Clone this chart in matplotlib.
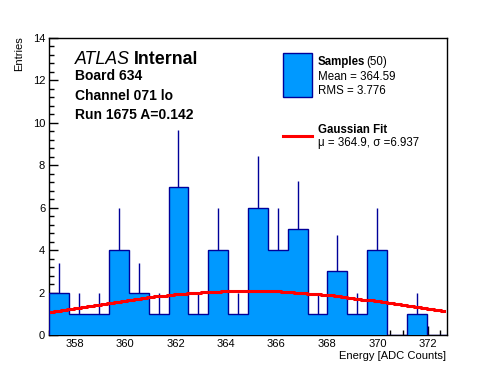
import numpy as np
import matplotlib
matplotlib.use('Agg')
import matplotlib.pyplot as plt
from matplotlib.patches import Rectangle
from matplotlib.lines import Line2D
from matplotlib.ticker import MultipleLocator

plt.rcParams['font.family'] = ['Liberation Sans', 'DejaVu Sans']

# histogramme: 20 bins entre bin_lo y bin_hi
bin_lo = 357.0
bin_hi = 372.75
counts = [2, 1, 1, 4, 2, 1, 7, 1, 4, 1, 6, 4, 5, 1, 3, 1, 4, 0, 1, 0]

# parametros del ajuste gaussiano
fit_const = 2.08
fit_mean = 364.9
fit_sigma = 6.937

n_samples = 50
mean_txt = 364.59
rms_txt = 3.776

header = ['Board 634', 'Channel 071 lo', 'Run 1675 A=0.142']

W, H = 496, 372
col_fill = '#0099ff'
col_edge = '#000099'


def px(x, y):
    return x / W, 1 - y / H


counts = np.array(counts, dtype=float)
edges = np.linspace(bin_lo, bin_hi, len(counts) + 1)
centers = 0.5 * (edges[:-1] + edges[1:])
errs = np.sqrt(counts)

fig = plt.figure(figsize=(W / 100, H / 100), dpi=100)
ax = fig.add_axes([49.3 / W, 37 / H, (446.7 - 49.3) / W, (335 - 38) / H])

# barras de error (solo se ve la parte de arriba)
mask = counts > 0
ax.vlines(centers[mask], counts[mask], counts[mask] + errs[mask],
          color=col_edge, lw=1, zorder=2)
ax.stairs(counts, edges, fill=True, facecolor=col_fill, edgecolor='none', zorder=3)
ax.stairs(counts, edges, fill=False, edgecolor=col_edge, lw=1.0, baseline=0, zorder=4)

xf = np.linspace(bin_lo + 0.05, bin_hi - 0.1, 60)
yf = fit_const * np.exp(-0.5 * ((xf - fit_mean) / fit_sigma) ** 2)
ax.plot(xf, yf, color='#ff0000', lw=2.2, drawstyle='steps-mid', zorder=5)

ax.set_xlim(bin_lo, bin_hi)
ax.set_ylim(0, 14)
ax.xaxis.set_major_locator(MultipleLocator(2))
ax.xaxis.set_minor_locator(MultipleLocator(0.5))
ax.yaxis.set_major_locator(MultipleLocator(2))
ax.yaxis.set_minor_locator(MultipleLocator(0.4))
ax.tick_params(which='both', direction='in', top=False, right=False,
               labelsize=8, width=1)
ax.tick_params(which='major', length=6.5, pad=3)
ax.tick_params(which='minor', length=3.3)
for s in ax.spines.values():
    s.set_linewidth(1)

fig.text(*px(19.5, 36), 'Entries', rotation=90, ha='center', va='top', fontsize=8)
fig.text(*px(446, 359), 'Energy [ADC Counts]', ha='right', va='baseline', fontsize=8)

# texto ATLAS
fig.text(*px(75, 63.5), 'ATLAS', style='italic', fontsize=12.8, va='baseline')
fig.text(*px(134, 63.5), 'Internal', weight='bold', fontsize=12.8, va='baseline')
for i, t in enumerate(header):
    fig.text(*px(75, 80.5 + 19 * i), t, weight='bold', fontsize=10, va='baseline')

# leyenda
x0, y0 = px(283.3, 96.7)
x1, y1 = px(311.7, 53.3)
fig.patches.append(Rectangle((x0, y0), x1 - x0, y1 - y0, transform=fig.transFigure,
                             facecolor=col_fill, edgecolor=col_edge, lw=1))
fig.text(*px(317.5, 65.5), 'Samples', weight='bold', fontsize=8.3, va='baseline')
fig.text(*px(366, 65.5), '(%d)' % n_samples, fontsize=8.3, va='baseline')
fig.text(*px(317.5, 80), 'Mean = %.2f' % mean_txt, fontsize=8.3, va='baseline')
fig.text(*px(317.5, 94), 'RMS = %.3f' % rms_txt, fontsize=8.3, va='baseline')

lx0, ly = px(283.3, 136)
lx1, _ = px(311.7, 136)
fig.lines.append(Line2D([lx0, lx1], [ly, ly], transform=fig.transFigure,
                        color='#ff0000', lw=2.2))
fig.text(*px(317.5, 133), 'Gaussian Fit', weight='bold', fontsize=8.3, va='baseline')
fig.text(*px(317.5, 146), '\u03bc = %.1f, \u03c3 =%.3f' % (fit_mean, fit_sigma),
         fontsize=8.3, va='baseline')

fig.savefig('out.png', dpi=100)
